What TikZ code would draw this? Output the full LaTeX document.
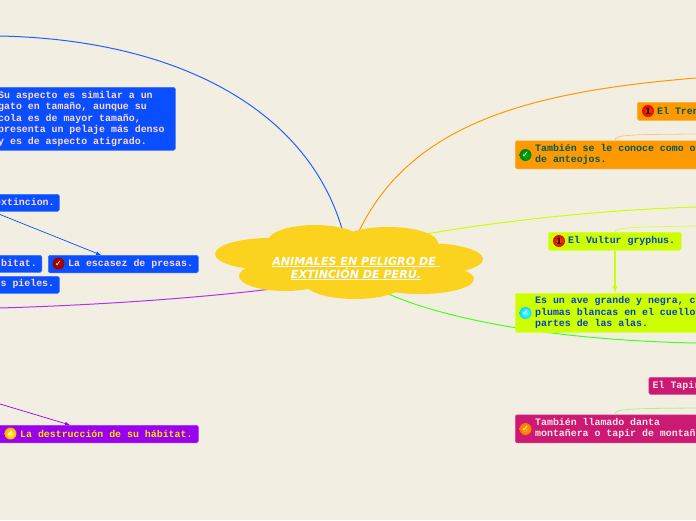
\documentclass[tikz,border=0pt]{standalone}
\usepackage{fontspec}
\setmainfont{DejaVu Sans}
\setmonofont{Liberation Mono}
\newfontfamily\iconfont{DejaVu Sans}
\definecolor{paper}{HTML}{F2EFE2}
\definecolor{nube}{HTML}{FBD31E}
\definecolor{azul}{HTML}{0A4FFF}
\definecolor{naranja}{HTML}{FF9900}
\definecolor{lima}{HTML}{CCFF00}
\definecolor{fucsia}{HTML}{CC1A74}
\definecolor{morado}{HTML}{9900EE}
\definecolor{verde}{HTML}{44FF22}
\tikzset{
    mapbox/.style={rectangle,rounded corners=1.5pt,anchor=north west,inner sep=0pt,line width=0.5pt},
    boxtext/.style={anchor=west,inner sep=0pt,align=left,font=\ttfamily\bfseries\fontsize{9.9}{11.5}\selectfont},
    icon/.style={circle,inner sep=0pt,minimum size=12pt,font=\iconfont\bfseries\fontsize{8.5}{8.5}\selectfont},
    nubepart/.style={fill=nube}
}
\begin{document}
\begin{tikzpicture}[x=1pt,y=-1pt]
    \path[use as bounding box,fill=paper] (0,0) rectangle (696,520);
    \clip (0,0) rectangle (696,520);
    % Ends of the main branches
    \coordinate (salazul) at (0,36);
    \coordinate (salnaranja) at (696,78);
    \coordinate (sallima) at (696,207);
    \coordinate (salverde) at (696,343);
    \coordinate (salmorado) at (0,308);
    \coordinate (nubeazul) at (345,240);
    \coordinate (nubenaranja) at (355,240);
    \coordinate (nubelima) at (420,235);
    \coordinate (nubeverde) at (380,290);
    \coordinate (nubemorado) at (280,288);
    % Draw the main branches
    \draw[azul!90!white,line width=1pt] (nubeazul) .. controls (315,115) and (185,40) .. (salazul);
    \draw[naranja,line width=1pt] (nubenaranja) .. controls (405,125) and (525,92) .. (salnaranja);
    \draw[lima,line width=1pt] (nubelima) .. controls (500,221) and (600,210) .. (sallima);
    \draw[verde,line width=1pt] (nubeverde) .. controls (430,315) and (540,340) .. (salverde);
    \draw[morado!80!white,line width=1pt] (nubemorado) .. controls (200,298) and (100,305) .. (salmorado);
    % Draw the cloud
    \fill[nubepart] (270,254) ellipse (55 and 16);
    \fill[nubepart] (315,241) ellipse (47 and 16);
    \fill[nubepart] (388,243) ellipse (50 and 16);
    \fill[nubepart] (425,259) ellipse (58 and 16);
    \fill[nubepart] (420,279) ellipse (54 and 15);
    \fill[nubepart] (285,276) ellipse (46 and 15);
    \fill[nubepart] (355,283) ellipse (50 and 16);
    \fill[nubepart] (350,260) ellipse (90 and 22);
    \node[text=white,align=center,inner sep=0pt,font=\bfseries\itshape\fontsize{11.1}{13}\selectfont] (nube) at (356,268.5)
        {\underline{ANIMALES EN PELIGRO DE\ }\\\underline{EXTINCIÓN DE PERÚ.}};
    % Draw the blue boxes
    \node[mapbox,fill=azul,draw=azul!80!white,minimum width=185pt,minimum height=63pt] (aspecto) at (-10,87) {};
    \node[boxtext,text=white!85!red] (aspectotexto) at (-2,118.5)
        {Su aspecto es similar a un\\gato en tamaño, aunque su\\cola es de mayor tamaño,\\presenta un pelaje más denso\\y es de aspecto atigrado.};
    \node[mapbox,fill=azul,draw=azul!80!white,minimum width=69pt,minimum height=17pt] (extincion) at (-10,194) {};
    \node[boxtext,text=white!85!red] (extinciontexto) at (-5,202) {extincion.};
    \node[mapbox,fill=azul,draw=azul!80!white,minimum width=51.5pt,minimum height=17pt] (habitat) at (-10,255) {};
    \node[boxtext,text=white!85!red] (habitattexto) at (1,263) {bitat.};
    \node[mapbox,fill=azul,draw=azul!80!white,minimum width=69pt,minimum height=17pt] (pieles) at (-10,276) {};
    \node[boxtext,text=white!85!red] (pielestexto) at (-5.5,284) {us pieles.};
    \node[mapbox,fill=azul,draw=azul!80!white,minimum width=150pt,minimum height=17.5pt] (escasez) at (48,255) {};
    \node[boxtext,text=white!85!red] (escaseztexto) at (68,263.5) {La escasez de presas.};
    \node[icon,inner color=red!70!black,outer color=red!60!black,text=white] (escasezicono) at (58.5,263.5) {✓};
    % Draw the purple box
    \node[mapbox,fill=morado,draw=morado!80!white,minimum width=208pt,minimum height=17.5pt] (destruccion) at (-10,425) {};
    \node[boxtext,text=yellow!85!orange] (destrucciontexto) at (20,433.5) {La destrucción de su hábitat.};
    \node[icon,inner color=yellow!70!white,outer color=orange!70!yellow,text=white] (destruccionicono) at (10.5,433.5) {✓};
    % Draw the orange boxes
    \node[mapbox,fill=naranja,draw=naranja!80!white,minimum width=69pt,minimum height=18pt] (tren) at (637,102) {};
    \node[boxtext,text=teal!70!black] (trentexto) at (657,111) {El Tren};
    \node[icon,inner color=red!40!orange,outer color=red!90!black,text=black] (trenicono) at (648,111) {1};
    \node[mapbox,fill=naranja,draw=naranja!80!white,minimum width=191pt,minimum height=28pt] (tambien) at (515,140.5) {};
    \node[boxtext,text=teal!70!black] (tambientexto) at (535,154.5) {También se le conoce como o\\de anteojos.};
    \node[icon,inner color=green!70!black,outer color=green!50!black,text=white] (tambienicono) at (525.5,155) {✓};
    % Draw the lime boxes
    \node[mapbox,fill=lima,draw=lima!80!white,minimum width=133pt,minimum height=18pt] (vultur) at (548,232) {};
    \node[boxtext,text=azul!80!black] (vulturtexto) at (568,241) {El Vultur gryphus.};
    \node[icon,inner color=red!40!orange,outer color=red!90!black,text=black] (vulturicono) at (559,241) {1};
    \node[mapbox,fill=lima,draw=lima!80!white,minimum width=191pt,minimum height=39pt] (ave) at (515,293) {};
    \node[boxtext,text=azul!80!black] (avetexto) at (535,312.5) {Es un ave grande y negra, c\\plumas blancas en el cuello\\partes de las alas.};
    \node[icon,inner color=cyan!60!white,outer color=cyan!85!blue,text=white] (aveicono) at (525.5,313) {✓};
    % Draw the magenta boxes
    \node[mapbox,fill=fucsia,draw=fucsia!80!white,minimum width=58pt,minimum height=17pt] (tapir) at (648.5,377) {};
    \node[boxtext,text=white!90!red] (tapirtexto) at (652.5,386) {El Tapir};
    \node[mapbox,fill=fucsia,draw=fucsia!80!white,minimum width=191pt,minimum height=28pt] (danta) at (515,414.5) {};
    \node[boxtext,text=white!90!red] (dantatexto) at (535,428.5) {También llamado danta\\montañera o tapir de montañ};
    \node[icon,inner color=orange!70!yellow,outer color=orange!90!red,text=white] (dantaicono) at (525.5,429) {✓};
    % Draw the thin links
    \coordinate (salextincion) at (0,214.5);
    \coordinate (llegaescasez) at (101,255);
    \coordinate (saldestruccion) at (0,404);
    \coordinate (llegadestruccion) at (70,425);
    \coordinate (saltambien) at (696,134);
    \coordinate (salvultur) at (696,226);
    \coordinate (saldanta) at (696,408);
    \draw[azul,-latex,line width=0.7pt] (salextincion) -- (llegaescasez);
    \draw[morado,-latex,line width=0.7pt] (saldestruccion) -- (llegadestruccion);
    \draw[lima,-latex,line width=1.4pt] (vultur.south -| 615,0) -- (ave.north -| 615,0);
    \draw[naranja!45!paper,line width=0.8pt] (615,140.5) .. controls (615,135) and (625,134.5) .. (saltambien);
    \draw[lima!60!paper,line width=0.8pt] (615,232) .. controls (615,228) and (625,227) .. (salvultur);
    \draw[verde!45!paper,line width=0.8pt] (615,414.5) .. controls (615,409) and (625,408.5) .. (saldanta);
\end{tikzpicture}
\end{document}
